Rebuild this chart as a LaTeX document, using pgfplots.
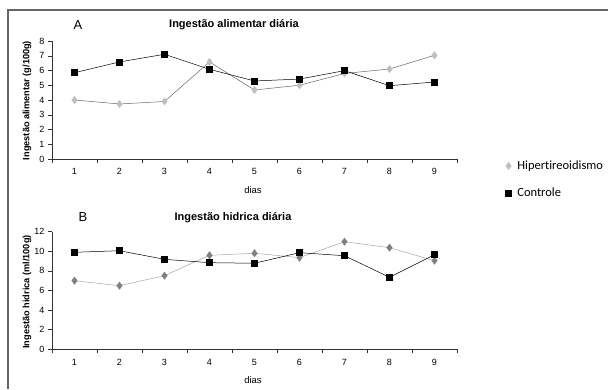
\documentclass[border=0pt]{standalone}
\usepackage{fontspec}
\setmainfont{Liberation Sans}
\newfontfamily\calibri[Ligatures={NoCommon}]{Carlito}
\usepackage{pgfplots}
\pgfplotsset{compat=1.18}
\pgfplotsset{
  myaxis/.style={
    scale only axis, width=405pt,
    xmin=0.5, xmax=9.5,
    xtick={1,...,9},
    major x tick style={draw=none},
    minor xtick={0.5,1.5,...,9.5},
    minor x tick style={draw=black!80, line width=0.5pt},
    minor tick length=4pt, major tick length=4pt,
    tick align=outside,
    axis x line*=bottom, axis y line*=left,
    axis line style={black!80, line width=0.6pt},
    y tick style={black!80, line width=0.5pt},
    ticklabel style={font=\fontsize{9}{11}\selectfont},
    /pgf/number format/assume math mode=true,
    xticklabel style={yshift=-2pt},
    clip=false,
  }
}
\begin{document}
\begin{tikzpicture}
\path[use as bounding box] (0pt,0pt) rectangle (608pt,389pt);
\draw[line width=1.2pt, black!60] (8pt,0pt) -- (8pt,379pt) -- (608pt,379pt);

% Panel A
\begin{axis}[myaxis, at={(52pt,230pt)}, anchor=south west, height=118pt,
  ymin=0, ymax=8, ytick={0,...,8},
  legend style={at={(1.112,-0.174)}, anchor=west, draw=none, fill=none,
    font=\calibri\fontsize{12.5}{14}\selectfont, row sep=13pt},
  legend cell align=left,
  legend image code/.code={\draw[#1, only marks] plot coordinates {(0.15cm,0cm)}; \path (0.38cm,0cm);},
]
\addplot[black!60, line width=0.5pt, mark=diamond*, mark size=3.6pt,
  mark options={fill=black!25, draw=black!25}] coordinates {
(1,4.0) (2,3.73) (3,3.9) (4,6.58) (5,4.68) (6,5.0) (7,5.8) (8,6.1) (9,7.03)};
\addlegendentry{Hipertireoidismo}
\addplot[black, line width=0.5pt, mark=square*, mark size=3pt,
  mark options={fill=black}] coordinates {
(1,5.85) (2,6.58) (3,7.1) (4,6.08) (5,5.29) (6,5.42) (7,5.99) (8,4.97) (9,5.22)};
\addlegendentry{Controle}
\end{axis}

% Panel B
\begin{axis}[myaxis, at={(52pt,39.7pt)}, anchor=south west, height=117.6pt,
  ymin=0, ymax=12, ytick={0,2,...,12},
]
\addplot[black!35, line width=0.5pt, mark=diamond*, mark size=3.6pt,
  mark options={fill=black!50, draw=black!50}] coordinates {
(1,7.0) (2,6.49) (3,7.51) (4,9.59) (5,9.8) (6,9.35) (7,10.98) (8,10.37) (9,9.04)};
\addplot[black, line width=0.5pt, mark=square*, mark size=3pt,
  mark options={fill=black}] coordinates {
(1,9.9) (2,10.06) (3,9.18) (4,8.84) (5,8.78) (6,9.86) (7,9.55) (8,7.35) (9,9.65)};
\end{axis}

% Titles and labels
\node[font=\fontsize{13}{15}\selectfont] at (78pt,364pt) {A};
\node[font=\bfseries\fontsize{11}{13}\selectfont] at (234pt,364pt) {Ingestão alimentar diária};
\node[font=\fontsize{9.5}{11}\selectfont] at (253pt,199pt) {dias};
\node[font=\bfseries\fontsize{9.2}{11}\selectfont, rotate=90] at (27pt,288.5pt) {Ingestão alimentar (g/100g)};

\node[font=\fontsize{13}{15}\selectfont] at (83pt,172.3pt) {B};
\node[font=\bfseries\fontsize{11}{13}\selectfont] at (233pt,171.3pt) {Ingestão hidrica diária};
\node[font=\fontsize{9.5}{11}\selectfont] at (253pt,9pt) {dias};
\node[font=\bfseries\fontsize{9.2}{11}\selectfont, rotate=90] at (27pt,97pt) {Ingestão hidrica (ml/100g)};
\end{tikzpicture}
\end{document}
